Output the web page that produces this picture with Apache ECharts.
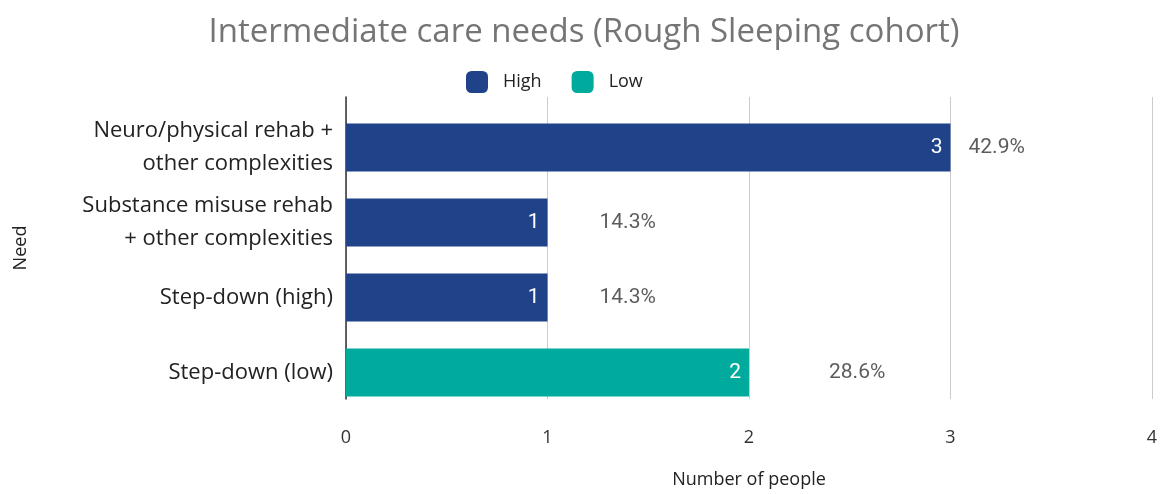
<!DOCTYPE html>
<html>
<head>
<meta charset="utf-8">
<script src="https://cdn.jsdelivr.net/npm/echarts@6/dist/echarts.min.js"></script>
<style>
  html, body { margin: 0; padding: 0; background: #fff; }
  #chart { width: 1168px; height: 494px; }
</style>
</head>
<body>
<div id="chart"></div>
<script>
  // data
  const needs = ['Neuro/physical rehab +\nother complexities', 'Substance misuse rehab\n+ other complexities', 'Step-down (high)', 'Step-down (low)']
  const highValues = [3, 1, 1, '-']
  const lowValues = ['-', '-', '-', 2]
  const shares = ['42.9%', '14.3%', '14.3%', '28.6%']
  const xTicks = [0, 1, 2, 3, 4]

  // how far the share label sits right of the bar end
  const shareGap = [18, 52, 52, 80]

  const totals = needs.map((n, i) => (highValues[i] === '-' ? 0 : highValues[i]) + (lowValues[i] === '-' ? 0 : lowValues[i]))

  const chart = echarts.init(document.getElementById('chart'))
  const sans = '"Open Sans", "Noto Sans", sans-serif'

  chart.setOption({
    animation: false,
    title: {
      text: 'Intermediate care needs (Rough Sleeping cohort)',
      left: 'center',
      top: 11,
      textStyle: { fontFamily: sans, fontSize: 33, fontWeight: 'normal', color: '#757575' }
    },
    legend: {
      data: ['High', 'Low'],
      left: 461,
      top: 66,
      itemWidth: 22,
      itemHeight: 22,
      itemGap: 30,
      icon: 'roundRect',
      textStyle: { fontFamily: sans, fontSize: 18, color: '#222', padding: [0, 0, 0, 10] }
    },
    grid: [
      { left: 346, right: 16, top: 97, bottom: 71 },
      { left: 346, right: 16, top: 110, height: 300 }
    ],
    xAxis: [{
      gridIndex: 0,
      type: 'value',
      min: xTicks[0],
      max: xTicks[xTicks.length - 1],
      interval: 1,
      axisLine: { show: false },
      axisTick: { show: false },
      axisLabel: { margin: 14, fontFamily: sans, fontSize: 18, color: '#333', padding: [16, 0, 0, 0] },
      splitLine: { lineStyle: { color: '#cccccc', width: 1 } },
      name: 'Number of people',
      nameLocation: 'middle',
      nameGap: 72,
      nameTextStyle: { fontFamily: sans, fontSize: 18, color: '#222' }
    }, {
      gridIndex: 1,
      type: 'value',
      min: xTicks[0],
      max: xTicks[xTicks.length - 1],
      show: false
    }],
    yAxis: [{
      gridIndex: 0,
      type: 'value',
      min: 0,
      max: 1,
      axisLine: { show: true, lineStyle: { color: '#333', width: 1.5 } },
      axisTick: { show: false },
      axisLabel: { show: false },
      splitLine: { show: false },
      name: 'Need',
      nameLocation: 'middle',
      nameRotate: 90,
      nameGap: 316,
      nameTextStyle: { fontFamily: sans, fontSize: 18, color: '#222' }
    }, {
      gridIndex: 1,
      type: 'category',
      inverse: true,
      data: needs,
      axisLine: { show: false },
      axisTick: { show: false },
      axisLabel: { margin: 13, fontFamily: sans, fontSize: 22, lineHeight: 33, color: '#222' }
    }],
    series: [{
      name: 'High',
      type: 'bar',
      xAxisIndex: 1,
      yAxisIndex: 1,
      stack: 'n',
      barWidth: 48,
      data: highValues,
      itemStyle: { color: '#1f4289' },
      label: { show: true, position: 'insideRight', distance: 8, color: '#fff', fontFamily: 'Roboto', fontSize: 21 }
    }, {
      name: 'Low',
      type: 'bar',
      xAxisIndex: 1,
      yAxisIndex: 1,
      stack: 'n',
      barWidth: 48,
      data: lowValues,
      itemStyle: { color: '#00ab9e' },
      label: { show: true, position: 'insideRight', distance: 8, color: '#fff', fontFamily: 'Roboto', fontSize: 21 }
    }, {
      name: 'share',
      type: 'scatter',
      xAxisIndex: 1,
      yAxisIndex: 1,
      symbolSize: 0,
      silent: true,
      data: totals.map((t, i) => ({
        value: [t, i],
        label: {
          show: true,
          position: 'right',
          distance: shareGap[i],
          formatter: shares[i],
          color: '#333',
          fontFamily: 'Roboto',
          fontSize: 21
        }
      }))
    }]
  })
</script>
</body>
</html>
